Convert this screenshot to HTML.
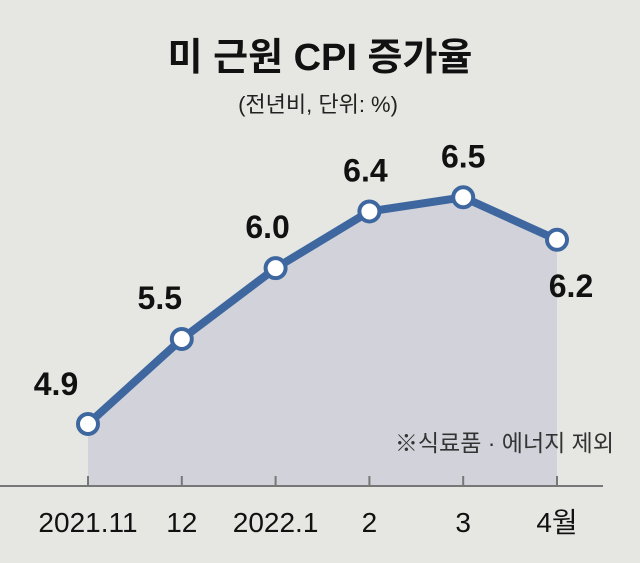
<!DOCTYPE html>
<html><head><meta charset="utf-8"><style>
html,body{margin:0;padding:0}
body{width:640px;height:558px;background:#e6e6e2;overflow:hidden;font-family:"Liberation Sans","Noto Sans CJK KR",sans-serif}
</style></head><body>
<svg width="640" height="558">
<text x="320" y="70" text-anchor="middle" font-size="38" font-weight="bold" fill="#111" font-family="Liberation Sans, Noto Sans CJK KR, sans-serif">미 근원 CPI 증가율</text>
<text x="318" y="112" text-anchor="middle" font-size="22" fill="#222" font-family="Liberation Sans, Noto Sans CJK KR, sans-serif">(전년비, 단위: %)</text>
<g id="plot"></g>
</svg>
<script>
const categories=["2021.11","12","2022.1","2","3","4월"];
const values=[4.9,5.5,6.0,6.4,6.5,6.2];
const valueLabels=["4.9","5.5","6.0","6.4","6.5","6.2"];
const NS="http://www.w3.org/2000/svg";
const g=document.getElementById('plot');
function x(i){return 88+i*93.8;}
function y(v){return 424-(v-4.9)*141.7;}
const base=486;
function mk(t,a){const e=document.createElementNS(NS,t);for(const k in a)e.setAttribute(k,a[k]);g.appendChild(e);return e;}
let d='M'+x(0)+','+base;
values.forEach((v,i)=>d+=' L'+x(i)+','+y(v));
d+=' L'+x(values.length-1)+','+base+' Z';
const area=mk('path',{d:d,fill:'#d2d3da'});


const ax=mk('line',{x1:0,x2:603,y1:base,y2:base,stroke:'#777','stroke-width':2});


const note=mk('text',{x:614,y:451,'text-anchor':'end','font-size':23,fill:'#333'});
note.textContent='※식료품 · 에너지 제외';


categories.forEach((c,i)=>{
 const t=mk('line',{x1:x(i),x2:x(i),y1:base-10,y2:base,stroke:'#777','stroke-width':2});
 
 
 const l=mk('text',{x:x(i),y:532,'text-anchor':'middle','font-size':28,fill:'#111'});
 l.textContent=c;
 
 
});
const pts=values.map((v,i)=>x(i)+','+y(v)).join(' ');
const line=mk('polyline',{points:pts,fill:'none',stroke:'#3e67a0','stroke-width':8,'stroke-linejoin':'round'});


const lOff=[[-32,-29],[-22,-30],[-8,-30],[-4,-30],[0,-30],[14,57]];
values.forEach((v,i)=>{
 const c=mk('circle',{cx:x(i),cy:y(v),r:10,fill:'#fff',stroke:'#3e67a0','stroke-width':4});
 
 
 const t=mk('text',{x:x(i)+lOff[i][0],y:y(v)+lOff[i][1],'text-anchor':'middle','font-size':32,'font-weight':'bold',fill:'#111'});
 t.textContent=valueLabels[i];
 
 
});
</script>
</body></html>
